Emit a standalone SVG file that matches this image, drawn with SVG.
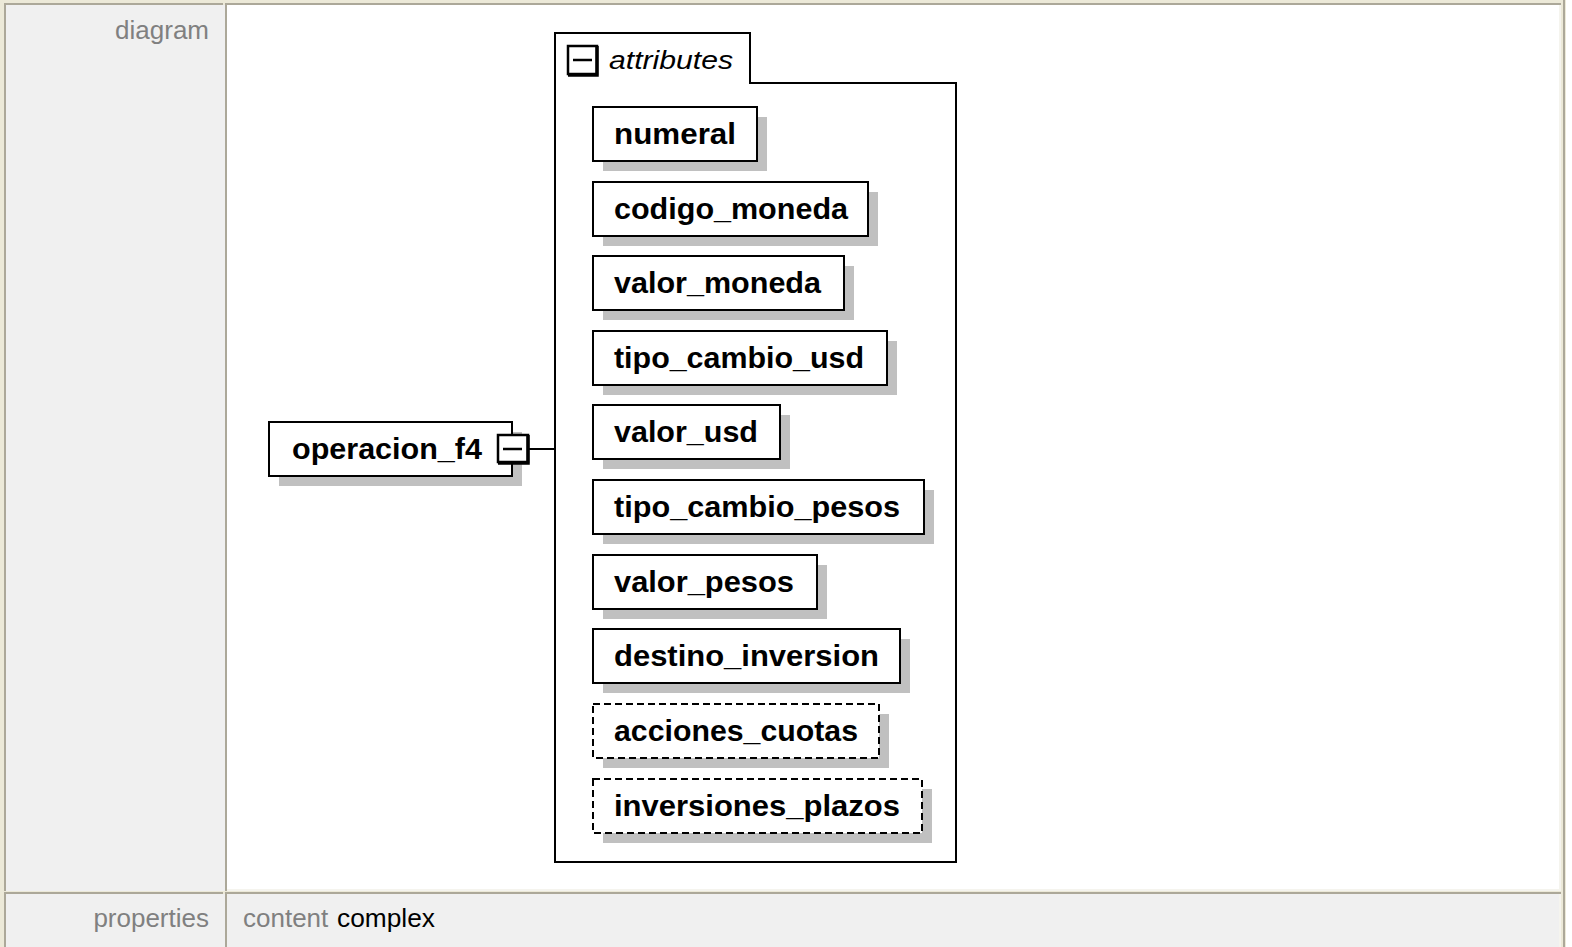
<svg xmlns="http://www.w3.org/2000/svg" width="1572" height="947" viewBox="0 0 1572 947">
<style>
.lbl{font-family:"Liberation Sans",Arial,sans-serif;font-size:26px;fill:#808080}
.val{font-family:"Liberation Sans",Arial,sans-serif;font-size:26px;fill:#000}
.nt{font-family:"Liberation Sans",Arial,sans-serif;font-size:30px;font-weight:bold;fill:#000}
.it{font-family:"Liberation Sans",Arial,sans-serif;font-size:25px;font-style:italic;fill:#000}
.box{fill:#fff;stroke:#000;stroke-width:2}
.dbox{fill:#fff;stroke:#000;stroke-width:2;stroke-dasharray:7 4}
.sh{fill:#c0c0c0}
.ln{stroke:#000;stroke-width:2;fill:none}
</style>
<rect x="0" y="0" width="1572" height="947" fill="#fff"/>
<g id="table">
<rect x="0" y="0" width="1566" height="947" fill="#ece9d8"/>
<rect x="1563" y="0" width="2" height="947" fill="#aca899"/>
<rect x="4" y="3" width="219" height="888" fill="#aca899"/>
<rect x="6" y="5" width="219" height="886" fill="#f0f0f0"/>
<rect x="225" y="3" width="1336" height="888" fill="#aca899"/>
<rect x="227" y="5" width="1334" height="886" fill="#fff"/>
<rect x="227" y="889" width="1334" height="2" fill="#f5f4ee"/>
<rect x="1559" y="5" width="2" height="886" fill="#f5f4ee"/>
<rect x="4" y="892" width="219" height="55" fill="#aca899"/>
<rect x="6" y="894" width="219" height="53" fill="#f0f0f0"/>
<rect x="225" y="892" width="1336" height="55" fill="#aca899"/>
<rect x="227" y="894" width="1334" height="53" fill="#f0f0f0"/>
<rect x="1559" y="894" width="2" height="53" fill="#f5f4ee"/>
<text class="lbl" x="209" y="39" text-anchor="end">diagram</text>
<text class="lbl" x="209" y="927" text-anchor="end">properties</text>
<text class="lbl" x="243" y="927">content</text>
<text class="val" x="337" y="927" textLength="98" lengthAdjust="spacingAndGlyphs">complex</text>
</g>
<g id="connectors">
<line class="ln" x1="529" y1="449" x2="556" y2="449"/>
</g>
<g id="attributes">
<path class="ln" d="M555,33 H750 V83 H956 V862 H555 Z" fill="#fff"/>
<rect x="568" y="46" width="29" height="28" fill="#fff" stroke="#000" stroke-width="2.5"/>
<path d="M597,46 V75 H568" stroke="#000" stroke-width="3.5" fill="none"/>
<line x1="573" y1="60" x2="592" y2="60" stroke="#000" stroke-width="2.5"/>
<text class="it" x="609" y="69" textLength="124" lengthAdjust="spacingAndGlyphs">attributes</text>
</g>
<g id="operacion_f4">
<rect class="sh" x="279" y="432" width="243" height="54"/>
<rect class="box" x="269" y="422" width="243" height="54"/>
<text class="nt" x="292" y="459" textLength="190" lengthAdjust="spacingAndGlyphs">operacion_f4</text>
<rect x="498" y="435" width="30" height="27" fill="#fff" stroke="#000" stroke-width="2.5"/>
<path d="M528,435 V463 H498" stroke="#000" stroke-width="3.5" fill="none"/>
<line x1="503" y1="449" x2="522" y2="449" stroke="#000" stroke-width="2.5"/>
</g>
<g id="numeral">
<rect class="sh" x="603" y="117" width="164" height="54"/>
<rect class="box" x="593" y="107" width="164" height="54"/>
<text class="nt" x="614" y="144" textLength="122" lengthAdjust="spacingAndGlyphs">numeral</text>
</g>
<g id="codigo_moneda">
<rect class="sh" x="603" y="192" width="275" height="54"/>
<rect class="box" x="593" y="182" width="275" height="54"/>
<text class="nt" x="614" y="219" textLength="234" lengthAdjust="spacingAndGlyphs">codigo_moneda</text>
</g>
<g id="valor_moneda">
<rect class="sh" x="603" y="266" width="251" height="54"/>
<rect class="box" x="593" y="256" width="251" height="54"/>
<text class="nt" x="614" y="293" textLength="207" lengthAdjust="spacingAndGlyphs">valor_moneda</text>
</g>
<g id="tipo_cambio_usd">
<rect class="sh" x="603" y="341" width="294" height="54"/>
<rect class="box" x="593" y="331" width="294" height="54"/>
<text class="nt" x="614" y="368" textLength="250" lengthAdjust="spacingAndGlyphs">tipo_cambio_usd</text>
</g>
<g id="valor_usd">
<rect class="sh" x="603" y="415" width="187" height="54"/>
<rect class="box" x="593" y="405" width="187" height="54"/>
<text class="nt" x="614" y="442" textLength="144" lengthAdjust="spacingAndGlyphs">valor_usd</text>
</g>
<g id="tipo_cambio_pesos">
<rect class="sh" x="603" y="490" width="331" height="54"/>
<rect class="box" x="593" y="480" width="331" height="54"/>
<text class="nt" x="614" y="517" textLength="286" lengthAdjust="spacingAndGlyphs">tipo_cambio_pesos</text>
</g>
<g id="valor_pesos">
<rect class="sh" x="603" y="565" width="224" height="54"/>
<rect class="box" x="593" y="555" width="224" height="54"/>
<text class="nt" x="614" y="592" textLength="180" lengthAdjust="spacingAndGlyphs">valor_pesos</text>
</g>
<g id="destino_inversion">
<rect class="sh" x="603" y="639" width="307" height="54"/>
<rect class="box" x="593" y="629" width="307" height="54"/>
<text class="nt" x="614" y="666" textLength="265" lengthAdjust="spacingAndGlyphs">destino_inversion</text>
</g>
<g id="acciones_cuotas">
<rect class="sh" x="603" y="714" width="286" height="54"/>
<rect class="dbox" x="593" y="704" width="286" height="54"/>
<text class="nt" x="614" y="741" textLength="244" lengthAdjust="spacingAndGlyphs">acciones_cuotas</text>
</g>
<g id="inversiones_plazos">
<rect class="sh" x="603" y="789" width="329" height="54"/>
<rect class="dbox" x="593" y="779" width="329" height="54"/>
<text class="nt" x="614" y="816" textLength="286" lengthAdjust="spacingAndGlyphs">inversiones_plazos</text>
</g>
</svg>
